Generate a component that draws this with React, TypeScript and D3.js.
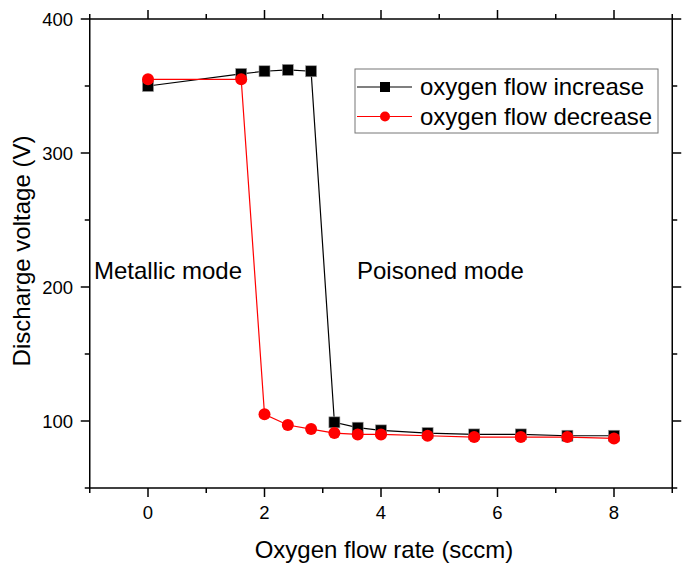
import React from "react";
import * as d3 from "d3";

const flowUp = [0, 1.6, 2.0, 2.4, 2.8, 3.2, 3.6, 4.0, 4.8, 5.6, 6.4, 7.2, 8.0];
const voltUp = [350, 359, 361, 362, 361, 99, 95, 93, 91, 90, 90, 89, 89];
const flowDown = [0, 1.6, 2.0, 2.4, 2.8, 3.2, 3.6, 4.0, 4.8, 5.6, 6.4, 7.2, 8.0];
const voltDown = [355, 355, 105, 97, 94, 91, 90, 90, 89, 88, 88, 88, 87];
const xMajor = [0, 2, 4, 6, 8];
const xMinor = [-1, 1, 3, 5, 7, 9];
const yMajor = [100, 200, 300, 400];
const yMinor = [50, 150, 250, 350];
const seriesNames = ["oxygen flow increase", "oxygen flow decrease"];

const FONT = "'Liberation Sans', Arial, sans-serif";

export default function App() {
  const left = 89.75, right = 672.25, top = 19, bottom = 488;
  const x = d3.scaleLinear().domain([-1, 9]).range([left, right]);
  const y = d3.scaleLinear().domain([50, 400]).range([bottom, top]);
  const line = d3
    .line<[number, number]>()
    .x((d) => x(d[0]))
    .y((d) => y(d[1]));
  const up: [number, number][] = flowUp.map((f, i) => [f, voltUp[i]]);
  const down: [number, number][] = flowDown.map((f, i) => [f, voltDown[i]]);
  const ax = { stroke: "#000", strokeWidth: 1.5 };
  const sq = 11;
  return (
    <svg
      width={688}
      height={564}
      style={{ position: "absolute", left: 0, top: 0, background: "#fff" }}
      fontFamily={FONT}
    >
      <rect x={0} y={0} width={688} height={564} fill="#fff" />
      {/* frame */}
      <line x1={left} x2={right} y1={bottom} y2={bottom} {...ax} />
      <line x1={left} x2={right} y1={top} y2={top} {...ax} />
      <line x1={left} x2={left} y1={top} y2={bottom} {...ax} />
      <line x1={right} x2={right} y1={top} y2={bottom} {...ax} />
      {/* x ticks */}
      {xMajor.map((v) => (
        <g key={"xm" + v}>
          <line x1={x(v)} x2={x(v)} y1={bottom} y2={bottom + 9} {...ax} />
          <line x1={x(v)} x2={x(v)} y1={top} y2={top - 9} {...ax} />
          <text x={x(v)} y={519} textAnchor="middle" fontSize={18.5}>
            {v}
          </text>
        </g>
      ))}
      {xMinor.map((v) => (
        <g key={"xn" + v}>
          <line x1={x(v)} x2={x(v)} y1={bottom} y2={bottom + 5} {...ax} />
          <line x1={x(v)} x2={x(v)} y1={top} y2={top - 5} {...ax} />
        </g>
      ))}
      {/* y ticks */}
      {yMajor.map((v) => (
        <g key={"ym" + v}>
          <line x1={left} x2={left - 9} y1={y(v)} y2={y(v)} {...ax} />
          <line x1={right} x2={right + 9} y1={y(v)} y2={y(v)} {...ax} />
          <text x={73} y={y(v) + 6.5} textAnchor="end" fontSize={18.5}>
            {v}
          </text>
        </g>
      ))}
      {yMinor.map((v) => (
        <g key={"yn" + v}>
          <line x1={left} x2={left - 5} y1={y(v)} y2={y(v)} {...ax} />
          <line x1={right} x2={right + 5} y1={y(v)} y2={y(v)} {...ax} />
        </g>
      ))}
      {/* titles */}
      <text x={384} y={558} textAnchor="middle" fontSize={24}>
        Oxygen flow rate (sccm)
      </text>
      <text
        transform="translate(30, 251) rotate(-90)"
        textAnchor="middle"
        fontSize={24}
      >
        Discharge voltage (V)
      </text>
      <text x={94} y={279} fontSize={24}>
        Metallic mode
      </text>
      <text x={357} y={279} fontSize={24}>
        Poisoned mode
      </text>
      {/* series */}
      <path d={line(up) || ""} fill="none" stroke="#000" strokeWidth={1.2} />
      {up.map((d, i) => (
        <rect
          key={"u" + i}
          x={x(d[0]) - sq / 2}
          y={y(d[1]) - sq / 2}
          width={sq}
          height={sq}
          fill="#000"
          stroke="#999"
          strokeWidth={0.6}
        />
      ))}
      <path d={line(down) || ""} fill="none" stroke="#ff0000" strokeWidth={1.2} />
      {down.map((d, i) => (
        <circle key={"d" + i} cx={x(d[0])} cy={y(d[1])} r={6} fill="#ff0000" />
      ))}
      {/* legend */}
      <rect x={355} y={69} width={303} height={64} fill="#fff" stroke="#777" strokeWidth={1} />
      {seriesNames.map((name, i) => {
        const ly = 87 + i * 29.5;
        const col = i === 0 ? "#000" : "#ff0000";
        return (
          <g key={name}>
            <line x1={357} x2={412} y1={ly} y2={ly} stroke={col} strokeWidth={1.2} />
            {i === 0 ? (
              <rect x={385 - 5} y={ly - 5} width={10} height={10} fill="#000" />
            ) : (
              <circle cx={385} cy={ly} r={5} fill="#ff0000" />
            )}
            <text x={420} y={ly + 8} fontSize={24}>
              {name}
            </text>
          </g>
        );
      })}
    </svg>
  );
}
